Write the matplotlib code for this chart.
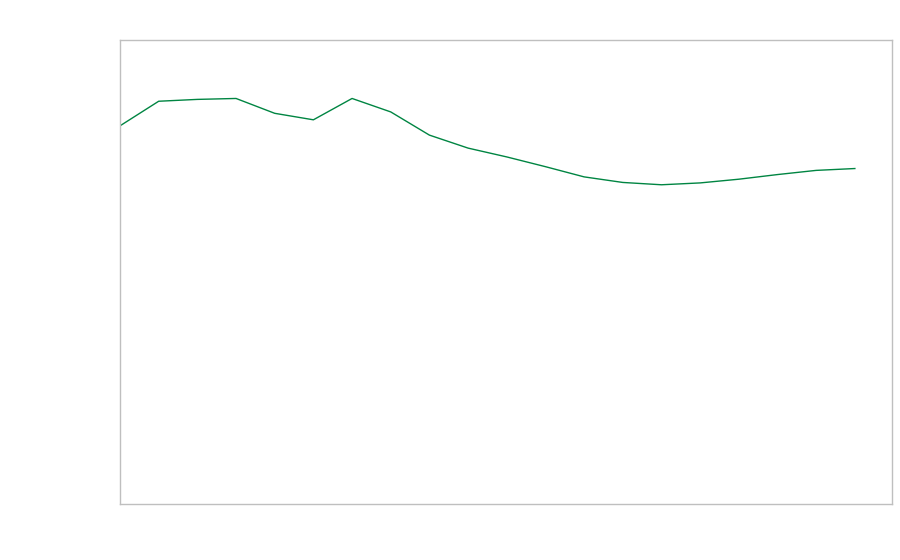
import matplotlib
matplotlib.use("Agg")
import matplotlib.pyplot as plt

# values (no axis labels shown, so scale is 0-100)
x_idx = list(range(20))
values = [81.5, 86.8, 87.2, 87.4, 84.2, 82.8, 87.4, 84.5, 79.5, 76.7,
          74.8, 72.7, 70.5, 69.3, 68.8, 69.2, 70.0, 71.0, 71.9, 72.3]

fig = plt.figure(figsize=(9, 5.6), dpi=100)
ax = fig.add_axes([120 / 900, 56 / 560, 772 / 900, 464 / 560])

ax.plot(x_idx, values, color="#008542", linewidth=1.0)

ax.set_xlim(0, 19.96)
ax.set_ylim(0, 100)
ax.set_xticks([])
ax.set_yticks([])
for sp in ax.spines.values():
    sp.set_color("#bfbfbf")
    sp.set_linewidth(1.0)

fig.savefig("out.png", dpi=100)
